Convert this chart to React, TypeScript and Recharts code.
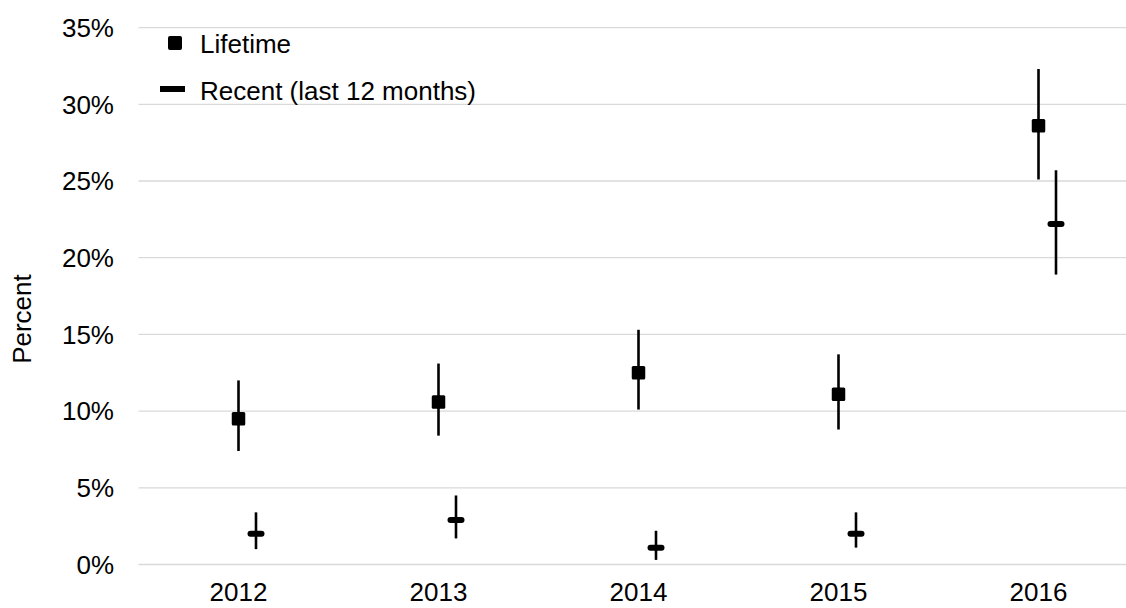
import { ScatterChart, Scatter, XAxis, YAxis, CartesianGrid, ErrorBar } from "recharts";

const YEARS = [2012, 2013, 2014, 2015, 2016];
const LIFETIME = [9.5, 10.6, 12.5, 11.1, 28.6];
const LIFETIME_LOW = [7.4, 8.4, 10.1, 8.8, 25.1];
const LIFETIME_HIGH = [12.0, 13.1, 15.3, 13.7, 32.3];
const RECENT = [2.0, 2.9, 1.1, 2.0, 22.2];
const RECENT_LOW = [1.0, 1.7, 0.3, 1.1, 18.9];
const RECENT_HIGH = [3.4, 4.5, 2.2, 3.4, 25.7];
const Y_TICKS = [0, 5, 10, 15, 20, 25, 30, 35];

// recent markers sit a little right of the year
const RECENT_SHIFT = 0.0875;
const FONT = "'Liberation Sans', Arial, sans-serif";
const FS = 26;

const lifetimeData = YEARS.map((year, i) => ({
  x: year,
  y: LIFETIME[i],
  err: [LIFETIME[i] - LIFETIME_LOW[i], LIFETIME_HIGH[i] - LIFETIME[i]],
}));

const recentData = YEARS.map((year, i) => ({
  x: year + RECENT_SHIFT,
  y: RECENT[i],
  err: [RECENT[i] - RECENT_LOW[i], RECENT_HIGH[i] - RECENT[i]],
}));

const SquareShape = (props: any) => (
  <rect x={props.cx - 6.75} y={props.cy - 6.75} width={13.5} height={13.5} rx={1.5} fill="#000" />
);

const DashShape = (props: any) => (
  <rect x={props.cx - 8.5} y={props.cy - 3} width={17} height={6} rx={3} fill="#000" />
);

const PercentLabel = (props: any) => {
  const vb = props.viewBox || {};
  const cy = (vb.y || 0) + (vb.height || 0) / 2 + 23;
  return (
    <text
      x={31}
      y={cy}
      transform={`rotate(-90, 31, ${cy})`}
      textAnchor="middle"
      fontSize={FS}
      fontFamily={FONT}
      fill="#000"
    >
      Percent
    </text>
  );
};

export default function App() {
  return (
    <div
      style={{
        position: "fixed",
        left: 0,
        top: 0,
        width: 1126,
        height: 608,
        overflow: "hidden",
        background: "#fff",
        fontFamily: FONT,
      }}
    >
      <ScatterChart width={1150} height={608} margin={{ top: 27.6, right: 11.5, bottom: 13.5, left: 0 }}>
        <CartesianGrid vertical={false} stroke="#d9d9d9" strokeWidth={1.3} />
        <XAxis
          type="number"
          dataKey="x"
          domain={[2011.5, 2016.5]}
          ticks={YEARS}
          axisLine={false}
          tickLine={false}
          tickSize={8}
          tickMargin={10.5}
          height={30}
          tick={{ fill: "#000", fontSize: FS, fontFamily: FONT }}
        />
        <YAxis
          type="number"
          dataKey="y"
          domain={[0, 35]}
          ticks={Y_TICKS}
          width={138.5}
          axisLine={false}
          tickLine={false}
          tickSize={8}
          tickMargin={16.5}
          tickFormatter={(v: number) => `${v}%`}
          tick={{ fill: "#000", fontSize: FS, fontFamily: FONT }}
          label={{ content: PercentLabel }}
        />
        <Scatter name="Lifetime" data={lifetimeData} shape={SquareShape} isAnimationActive={false}>
          <ErrorBar dataKey="err" direction="y" width={0} stroke="#000" strokeWidth={2.6} isAnimationActive={false} />
        </Scatter>
        <Scatter name="Recent (last 12 months)" data={recentData} shape={DashShape} isAnimationActive={false}>
          <ErrorBar dataKey="err" direction="y" width={0} stroke="#000" strokeWidth={2.6} isAnimationActive={false} />
        </Scatter>
      </ScatterChart>

      {/* Legend */}
      <div style={{ position: "absolute", left: 0, top: 0, fontSize: FS, color: "#000" }}>
        <div style={{ position: "absolute", left: 168, top: 36, width: 14, height: 14, background: "#000", borderRadius: 2 }} />
        <div style={{ position: "absolute", left: 200, top: 44, transform: "translateY(-50%)", whiteSpace: "nowrap", lineHeight: 1 }}>
          Lifetime
        </div>
        <div style={{ position: "absolute", left: 160, top: 86, width: 25, height: 6, background: "#000" }} />
        <div style={{ position: "absolute", left: 200, top: 91, transform: "translateY(-50%)", whiteSpace: "nowrap", lineHeight: 1 }}>
          Recent (last 12 months)
        </div>
      </div>
    </div>
  );
}
